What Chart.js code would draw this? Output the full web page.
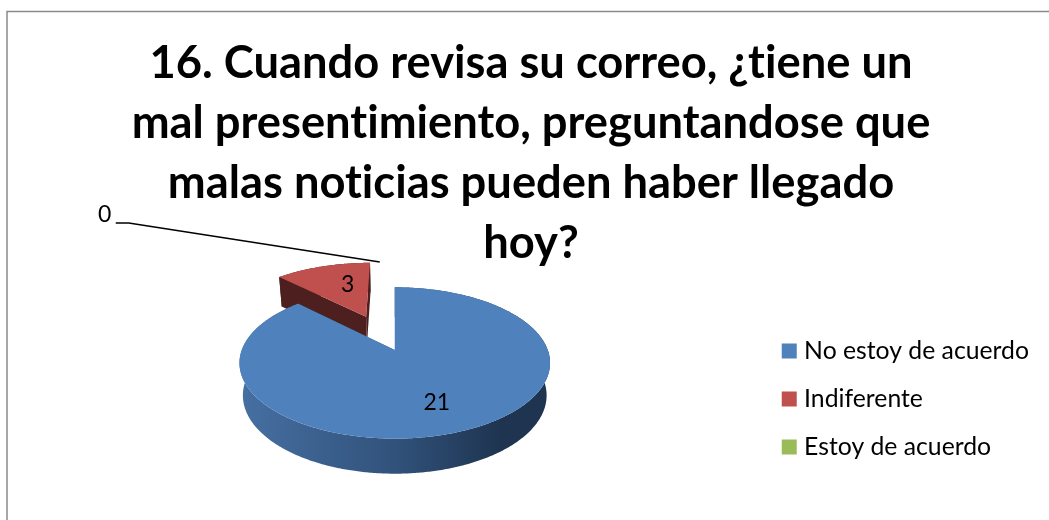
<!DOCTYPE html>
<html>
<head>
<meta charset="utf-8">
<style>
  html, body { margin: 0; padding: 0; background: #fff; }
  #wrap { width: 1049px; height: 520px; position: relative; }
  canvas { display: block; }
</style>
<script src="https://cdn.jsdelivr.net/npm/chart.js@4"></script>
</head>
<body>
<div id="wrap"><canvas id="chart" width="1049" height="520"></canvas></div>
<script>
const titleLines = [
  "16. Cuando revisa su correo, ¿tiene un",
  "mal presentimiento, preguntandose que",
  "malas noticias pueden haber llegado",
  "hoy?",
];
const categories = ["No estoy de acuerdo", "Indiferente", "Estoy de acuerdo"];
const values = [21, 3, 0];
const topColors = ["#4f81bd", "#c0504d", "#9bbb59"];
const explode = [0, 0.53, 0];

// fake 3D look
const tilt = 0.48;
const persp = 0.171;
const pieLift = 49;
const pieShiftX = 1.5;
const wallDrop = 32;
const wallScaleX = 0.978;
const wallScaleY = 1.035;

function projector(el, shift, bottom) {
  const cx = el.x + pieShiftX;
  const cy = el.y - pieLift;
  const R = el.outerRadius;
  return (u, v) => {
    const uu = u + shift.u;
    const vv = v + shift.v;
    const d = 1 + persp * vv;
    const x = (R * uu) / d;
    const y = (R * tilt * vv) / d;
    if (bottom) return [cx + x * wallScaleX, cy + wallDrop - y * wallScaleY];
    return [cx + x, cy - y];
  };
}

function arcPoints(project, a0, a1) {
  const pts = [];
  const n = Math.max(2, Math.ceil((a1 - a0) / 0.01));
  for (let i = 0; i <= n; i++) {
    const a = a0 + ((a1 - a0) * i) / n;
    pts.push(project(Math.sin(a), Math.cos(a)));
  }
  return pts;
}

function fillPoly(ctx, pts, fill) {
  ctx.beginPath();
  pts.forEach((p, i) => (i ? ctx.lineTo(p[0], p[1]) : ctx.moveTo(p[0], p[1])));
  ctx.closePath();
  ctx.fillStyle = fill;
  ctx.fill();
}

const pie3d = {
  id: "pie3d",
  beforeDraw(chart) {
    const ctx = chart.ctx;
    // no ti ligature in the title
    ctx.textRendering = "optimizeSpeed";
    // frame of the chart, only the top and left lines are in the picture
    ctx.save();
    ctx.strokeStyle = "#8a8a8a";
    ctx.lineWidth = 1.5;
    ctx.beginPath();
    ctx.moveTo(7, 520);
    ctx.lineTo(7, 11.5);
    ctx.lineTo(1049, 11.5);
    ctx.stroke();
    ctx.restore();
  },
  beforeDatasetsDraw(chart) {
    const ctx = chart.ctx;
    const arcs = chart.getDatasetMeta(0).data;
    ctx.save();
    // far slice first so the big one covers it
    [1, 0].forEach((i) => {
      const el = arcs[i];
      if (values[i] === 0) return;
      const a0 = el.startAngle + Math.PI / 2;
      const a1 = el.endAngle + Math.PI / 2;
      const mid = (a0 + a1) / 2;
      const shift = { u: Math.sin(mid) * explode[i], v: Math.cos(mid) * explode[i] };
      const top = projector(el, shift, false);
      const bot = projector(el, shift, true);
      const topRim = arcPoints(top, a0, a1);
      const botRim = arcPoints(bot, a0, a1);

      const left = el.x + pieShiftX - el.outerRadius;
      const grad = ctx.createLinearGradient(left, 0, left + 2 * el.outerRadius, 0);
      if (i === 0) {
        grad.addColorStop(0, "#466fa2");
        grad.addColorStop(0.5, "#31527b");
        grad.addColorStop(0.85, "#1e3450");
        grad.addColorStop(1, "#1e3450");
      } else {
        grad.addColorStop(0, "#4d1f1e");
        grad.addColorStop(1, "#4d1f1e");
      }
      fillPoly(ctx, topRim.concat(botRim.slice().reverse()), grad);
      fillPoly(ctx, [top(0, 0), bot(0, 0), botRim[0], topRim[0]], grad);
      fillPoly(ctx, [top(0, 0), bot(0, 0), botRim[botRim.length - 1], topRim[topRim.length - 1]], grad);
      fillPoly(ctx, [top(0, 0)].concat(topRim), topColors[i]);
    });
    ctx.restore();
    return false;
  },
  afterDraw(chart) {
    const ctx = chart.ctx;
    const arcs = chart.getDatasetMeta(0).data;
    ctx.save();
    ctx.font = "23px Lato";
    ctx.fillStyle = "#000";
    ctx.textAlign = "center";
    ctx.textBaseline = "middle";
    const cx = arcs[0].x + pieShiftX;
    const cy = arcs[0].y - pieLift;
    ctx.fillText(String(values[0]), cx + 42, cy + 53);
    ctx.fillText(String(values[1]), cx - 47, cy - 65);
    ctx.fillText(String(values[2]), cx - 290, cy - 135);
    // leader line of the zero slice
    ctx.strokeStyle = "#000";
    ctx.lineWidth = 1.5;
    ctx.beginPath();
    ctx.moveTo(cx - 279, cy - 127);
    ctx.lineTo(cx - 266, cy - 127);
    ctx.lineTo(cx - 15, cy - 88);
    ctx.stroke();
    ctx.restore();
  },
};

new Chart(document.getElementById("chart"), {
  type: "pie",
  data: {
    labels: categories,
    datasets: [{ data: values, backgroundColor: topColors, borderWidth: 0 }],
  },
  options: {
    responsive: false,
    animation: false,
    radius: 153,
    layout: { padding: { left: 23, right: 10, top: 0, bottom: 0 } },
    plugins: {
      title: {
        display: true,
        text: titleLines,
        color: "#000",
        font: { family: "Lato", size: 45.3, weight: "bold", lineHeight: 1.33 },
        padding: { top: 33, bottom: 4 },
      },
      legend: {
        position: "right",
        fullSize: false,
        labels: {
          color: "#000",
          font: { family: "Lato", size: 24.75 },
          usePointStyle: true,
          pointStyle: "rect",
          boxWidth: 5,
          boxHeight: 15,
          padding: 23.25,
        },
      },
      tooltip: { enabled: false },
    },
  },
  plugins: [pie3d],
});
</script>
</body>
</html>
